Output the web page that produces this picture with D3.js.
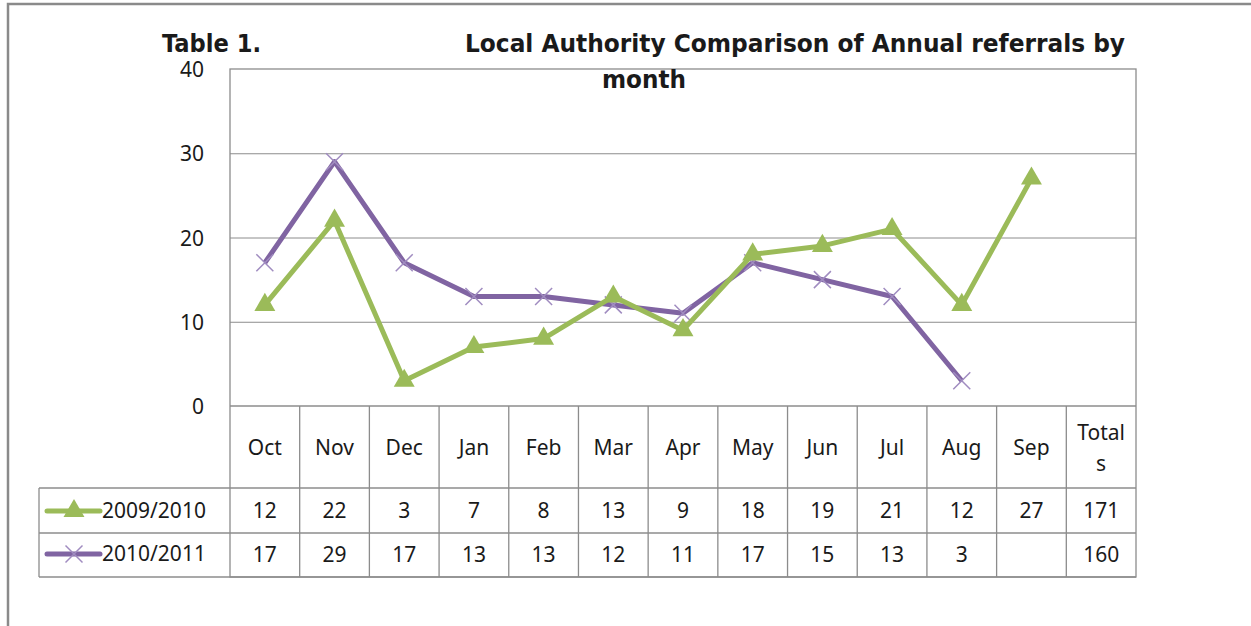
<!DOCTYPE html>
<html>
<head>
<meta charset="utf-8">
<script src="https://cdn.jsdelivr.net/npm/d3@7"></script>
<style>
  body { margin: 0; background: #fff; }
  svg { display: block; }
  text { font-family: "Noto Sans", "Open Sans", sans-serif; fill: #1a1a1a; }
  .title { font-family: "Liberation Sans Narrow", "DejaVu Sans Condensed", "Noto Sans", sans-serif; font-weight: bold; }
</style>
</head>
<body>
<div class="chart"></div>
<script>
// data
const months = ['Oct', 'Nov', 'Dec', 'Jan', 'Feb', 'Mar', 'Apr', 'May', 'Jun', 'Jul', 'Aug', 'Sep'];
const series1Name = '2009/2010';
const series2Name = '2010/2011';
const series1 = [12, 22, 3, 7, 8, 13, 9, 18, 19, 21, 12, 27];
const series2 = [17, 29, 17, 13, 13, 12, 11, 17, 15, 13, 3, null];
const totals = [171, 160];
const yTicks = [0, 10, 20, 30, 40];

const width = 1251;
const height = 626;
const plot = { left: 230, right: 1136, top: 69, bottom: 406 };
const rows = { head: 488, r1: 533, r2: 577 };
const legendLeft = 39;
const green = '#9bbb59';
const purple = '#8064a2';
const gridColor = '#8c8c8c';

const svg = d3.select('.chart')
  .append('svg')
  .attr('width', width)
  .attr('height', height);

// outer frame (top + left only visible)
svg.append('path')
  .attr('d', `M8,${height} L8,4 L${width},4`)
  .attr('fill', 'none')
  .attr('stroke', '#8a8a8a')
  .attr('stroke-width', 2.5);

const cats = months.concat(['Totals']);
const x = d3.scaleBand().domain(cats).range([plot.left, plot.right]);
const y = d3.scaleLinear().domain([0, 40]).range([plot.bottom, plot.top]);

// gridlines
svg.append('g')
  .attr('transform', `translate(${plot.left},0)`)
  .call(d3.axisLeft(y).tickValues(yTicks.slice(1, 4)).tickSize(-(plot.right - plot.left)).tickFormat(''))
  .call((g) => g.select('.domain').remove())
  .selectAll('line')
  .attr('stroke', gridColor);

// y tick labels
svg.append('g')
  .attr('transform', `translate(${plot.left - 26},0)`)
  .call(d3.axisLeft(y).tickValues(yTicks).tickSize(0).tickPadding(0))
  .call((g) => g.select('.domain').remove())
  .selectAll('text')
  .attr('dy', '0.36em')
  .style('font-size', '21px')
  .style('font-family', '"Noto Sans", sans-serif')
  .attr('fill', '#1a1a1a');

// plot frame + table grid
const grid = svg.append('g')
  .attr('fill', 'none')
  .attr('stroke', gridColor)
  .attr('stroke-width', 1.3);

grid.append('rect')
  .attr('x', plot.left).attr('y', plot.top)
  .attr('width', plot.right - plot.left).attr('height', rows.r2 - plot.top);

grid.append('line')
  .attr('x1', plot.left).attr('x2', plot.right)
  .attr('y1', plot.bottom).attr('y2', plot.bottom);

[rows.head, rows.r1, rows.r2].forEach((ry) => {
  grid.append('line')
    .attr('x1', legendLeft).attr('x2', plot.right)
    .attr('y1', ry).attr('y2', ry);
});
grid.append('line')
  .attr('x1', legendLeft).attr('x2', legendLeft)
  .attr('y1', rows.head).attr('y2', rows.r2);

cats.slice(1).forEach((c) => {
  grid.append('line')
    .attr('x1', x(c)).attr('x2', x(c))
    .attr('y1', plot.bottom).attr('y2', rows.r2);
});

// header labels
const cx = (c) => x(c) + x.bandwidth() / 2;
svg.append('g').selectAll('text')
  .data(months)
  .join('text')
  .attr('x', cx)
  .attr('y', 455)
  .attr('text-anchor', 'middle')
  .style('font-size', '21px')
  .text((d) => d);

svg.append('text')
  .attr('x', cx('Totals')).attr('y', 440)
  .attr('text-anchor', 'middle')
  .style('font-size', '21px')
  .text('Total');
svg.append('text')
  .attr('x', cx('Totals')).attr('y', 471)
  .attr('text-anchor', 'middle')
  .style('font-size', '21px')
  .text('s');

// table values
function valueRow(values, total, yPos) {
  const g = svg.append('g');
  g.selectAll('text')
    .data(values.concat([total]))
    .join('text')
    .attr('x', (d, i) => cx(cats[i]))
    .attr('y', yPos)
    .attr('text-anchor', 'middle')
    .style('font-size', '21px')
    .text((d) => (d == null ? '' : d));
}
valueRow(series1, totals[0], 518);
valueRow(series2, totals[1], 562);

// legend keys in table rows
function legendKey(yMid, color, name, marker) {
  const g = svg.append('g');
  g.append('line')
    .attr('x1', 47).attr('x2', 100)
    .attr('y1', yMid).attr('y2', yMid)
    .attr('stroke', color)
    .attr('stroke-width', 5)
    .attr('stroke-linecap', 'round');
  marker(g, 74, yMid);
  g.append('text')
    .attr('x', 102).attr('y', yMid + 7)
    .style('font-size', '21px')
    .text(name);
}

const triangle = d3.symbol().type(d3.symbolTriangle).size(190);
function triMarker(g, px, py) {
  g.append('path')
    .attr('d', triangle())
    .attr('transform', `translate(${px},${py})`)
    .attr('fill', green);
}
function crossMarker(g, px, py) {
  const s = 8.5;
  g.append('path')
    .attr('d', `M${px - s},${py - s}L${px + s},${py + s}M${px - s},${py + s}L${px + s},${py - s}`)
    .attr('stroke', '#a08cc0')
    .attr('stroke-width', 1.5)
    .attr('fill', 'none');
}

legendKey(511, green, series1Name, triMarker);
legendKey(554, purple, series2Name, crossMarker);

// lines
const line = d3.line()
  .defined((d) => d.v != null)
  .x((d) => cx(d.m))
  .y((d) => y(d.v));

const d1 = months.map((m, i) => ({ m: m, v: series1[i] }));
const d2 = months.map((m, i) => ({ m: m, v: series2[i] }));

svg.append('path')
  .datum(d2)
  .attr('d', line)
  .attr('fill', 'none')
  .attr('stroke', purple)
  .attr('stroke-width', 5)
  .attr('stroke-linejoin', 'round');

const pm = svg.append('g');
d2.filter((d) => d.v != null).forEach((d) => crossMarker(pm, cx(d.m), y(d.v)));

svg.append('path')
  .datum(d1)
  .attr('d', line)
  .attr('fill', 'none')
  .attr('stroke', green)
  .attr('stroke-width', 5)
  .attr('stroke-linejoin', 'round');

const gm = svg.append('g');
d1.forEach((d) => triMarker(gm, cx(d.m), y(d.v)));

// titles
svg.append('text')
  .attr('class', 'title')
  .attr('x', 162).attr('y', 52)
  .style('font-size', '24px')
  .attr('textLength', 99)
  .attr('lengthAdjust', 'spacingAndGlyphs')
  .text('Table 1.');

svg.append('text')
  .attr('class', 'title')
  .attr('x', 465).attr('y', 52)
  .style('font-size', '24px')
  .attr('textLength', 660)
  .attr('lengthAdjust', 'spacingAndGlyphs')
  .text('Local Authority Comparison of Annual  referrals by');

svg.append('text')
  .attr('class', 'title')
  .attr('x', 602).attr('y', 88)
  .style('font-size', '24px')
  .attr('textLength', 84)
  .attr('lengthAdjust', 'spacingAndGlyphs')
  .text('month');
</script>
</body>
</html>
